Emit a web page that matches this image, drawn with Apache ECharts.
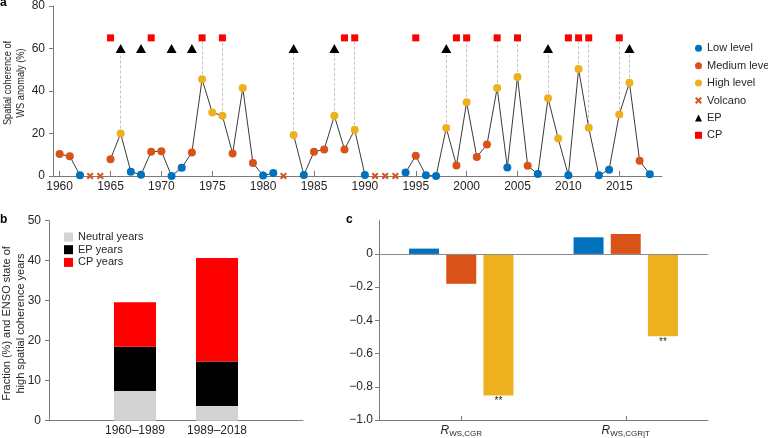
<!DOCTYPE html>
<html>
<head>
<meta charset="utf-8">
<script src="https://cdn.jsdelivr.net/npm/echarts@6/dist/echarts.min.js"></script>
<style>
html,body{margin:0;padding:0;background:#fff;}
#chart{width:768px;height:438px;}
</style>
</head>
<body>
<div id="chart"></div>
<script>
// ---------- Panel a data ----------
const years = [1960,1961,1962,1963,1964,1965,1966,1967,1968,1969,1970,1971,1972,1973,1974,1975,1976,1977,1978,1979,
  1980,1981,1982,1983,1984,1985,1986,1987,1988,1989,1990,1991,1992,1993,1994,1995,1996,1997,1998,1999,
  2000,2001,2002,2003,2004,2005,2006,2007,2008,2009,2010,2011,2012,2013,2014,2015,2016,2017,2018];
const wsValues = [10.3,9.3,0.3,null,null,7.9,20.0,2.0,0.6,11.4,11.7,0.0,3.9,11.1,45.5,29.9,28.3,10.6,41.4,6.1,
  0.2,1.4,null,19.3,0.5,11.4,12.5,28.3,12.5,21.8,0.5,null,null,null,1.6,9.5,0.3,0.0,22.6,5.0,
  34.7,9.0,14.8,41.4,4.0,46.6,4.8,0.9,36.6,17.6,0.3,50.3,22.7,0.3,3.0,29.0,43.9,7.2,0.8];
// L = low, M = medium, H = high, V = volcano
const levels = ['M','M','L','V','V','M','H','L','L','M','M','L','L','M','H','H','H','M','H','M',
  'L','L','V','H','L','M','M','H','M','H','L','V','V','V','L','M','L','L','H','M',
  'H','M','M','H','L','H','M','L','H','H','L','H','H','L','L','H','H','M','L'];
const epYears = [1966,1968,1971,1973,1983,1987,1998,2008,2016];
const cpYears = [1965,1969,1974,1976,1988,1989,1995,1999,2000,2003,2005,2010,2011,2012,2015];
const epMarkerValue = 60;
const cpMarkerValue = 65;
const yearTicks = [1960,1965,1970,1975,1980,1985,1990,1995,2000,2005,2010,2015];
const aYTicks = [0,20,40,60,80];

// ---------- Panel b data ----------
const periodCats = ['1960\u20131989','1989\u20132018'];
const neutralFrac = [7.4, 3.7];
const epFrac = [11.1, 11.1];
const cpFrac = [11.1, 25.9];

// ---------- Panel c data ----------
const corrCats = ['WS,CGR','WS,CGR|T'];
const corrLow = [0.032, 0.10];
const corrMed = [-0.18, 0.12];
const corrHigh = [-0.852, -0.495];
const corrSig = ['**','**'];
const cYTicks = [-1.0,-0.8,-0.6,-0.4,-0.2,0];

// ---------- styles ----------
const FONT = 'Liberation Sans, Arial, Helvetica, sans-serif';
const AX = '#7a7a7a';
const TXT = '#262626';
const C_LOW = '#0072BD', C_MED = '#D95319', C_HIGH = '#EDB120';
const CROSS = 'path://M2,0 L5,3 L8,0 L10,2 L7,5 L10,8 L8,10 L5,7 L2,10 L0,8 L3,5 L0,2 Z';

const pts = code => years.map((y,i)=> levels[i]===code ? [y, wsValues[i]] : null).filter(Boolean);

const guideData = [];
years.forEach((y,i)=>{
  if (levels[i] !== 'H') return;
  if (epYears.includes(y)) guideData.push({coords:[[y, wsValues[i]],[y, epMarkerValue]]});
  else if (cpYears.includes(y)) guideData.push({coords:[[y, wsValues[i]],[y, cpMarkerValue]]});
});

const axLine = {show:true, lineStyle:{color:AX, width:1}};
const lbl = (extra) => Object.assign({color:TXT, fontSize:12, fontFamily:FONT}, extra);

const chart = echarts.init(document.getElementById('chart'), null, {renderer:'canvas'});
const option = {
  animation:false,
  backgroundColor:'#fff',
  textStyle:{fontFamily:FONT},
  grid:[
    {left:53, right:106, top:4.7, bottom:262},
    {left:49, width:254, top:220.7, bottom:17.3},
    {left:379, width:329, top:220.7, bottom:17.3},
    {left:94, width:164, top:220.7, bottom:17.3}
  ],
  legend:[
    {
      data:['Low level','Medium level','High level','Volcano','EP','CP'],
      orient:'vertical', left:690, top:36.8, itemWidth:7, itemHeight:7, itemGap:4.4,
      textStyle:{fontSize:11, color:TXT, fontFamily:FONT, lineHeight:13},
      selectedMode:false
    },
    {
      data:['Neutral years','EP years','CP years'],
      orient:'vertical', left:59, top:226, itemWidth:9, itemHeight:9, itemGap:0.7, icon:'rect',
      textStyle:{fontSize:11, color:TXT, fontFamily:FONT, lineHeight:12},
      selectedMode:false
    }
  ],
  xAxis:[
    {gridIndex:0, type:'value', min:1959.35, max:2019.2,
     axisLine:axLine,
     axisTick:{show:true, inside:true, length:5, customValues:yearTicks, lineStyle:{color:AX}},
     axisLabel:lbl({customValues:yearTicks, formatter:v=>String(v), margin:5}),
     splitLine:{show:false}},
    {gridIndex:1, type:'value', min:0, max:1,
     axisLine:axLine, axisTick:{show:false}, axisLabel:{show:false}, splitLine:{show:false}},
    {gridIndex:2, type:'category', data:corrCats,
     axisLine:{show:true, onZero:false, lineStyle:{color:AX, width:1}},
     axisTick:{show:true, inside:true, length:4, alignWithLabel:true, lineStyle:{color:AX}},
     axisLabel:lbl({margin:3,
       formatter:v=>'{r|R}{s|'+v+'}',
       rich:{
         r:{fontSize:12, fontStyle:'italic', color:TXT, fontFamily:FONT},
         s:{fontSize:8, color:TXT, fontFamily:FONT, padding:[7,0,0,0]}
       }}),
     splitLine:{show:false}},
    {gridIndex:3, type:'category', data:periodCats,
     axisLine:{show:false, onZero:false},
     axisTick:{show:true, inside:true, length:3, alignWithLabel:true, lineStyle:{color:AX}},
     axisLabel:lbl({margin:4}),
     splitLine:{show:false}}
  ],
  yAxis:[
    {gridIndex:0, type:'value', min:0, max:80, interval:20,
     axisLine:axLine,
     axisTick:{show:true, length:4, lineStyle:{color:AX}},
     axisLabel:lbl({customValues:aYTicks, margin:8}),
     splitLine:{show:false}},
    {gridIndex:1, type:'value', min:0, max:50, interval:10,
     axisLine:axLine,
     axisTick:{show:true, length:4, lineStyle:{color:AX}},
     axisLabel:lbl({margin:8}),
     splitLine:{show:false}},
    {gridIndex:2, type:'value', min:-1, max:0.2,
     axisLine:axLine,
     axisTick:{show:true, length:4, customValues:cYTicks, lineStyle:{color:AX}},
     axisLabel:lbl({customValues:cYTicks, margin:6,
       formatter:v=>Math.abs(v)<1e-9 ? '0' : (v<0?'\u2212':'')+Math.abs(v).toFixed(1)}),
     splitLine:{show:false}},
    {gridIndex:3, type:'value', min:0, max:50, show:false}
  ],
  series:[
    // panel a
    {name:'guides', type:'lines', coordinateSystem:'cartesian2d', xAxisIndex:0, yAxisIndex:0,
     data:guideData, silent:true, z:1,
     lineStyle:{color:'#c4c4c4', width:1, type:[3,2], opacity:1}},
    {name:'ws', type:'line', xAxisIndex:0, yAxisIndex:0, z:2,
     data:years.map((y,i)=>[y, wsValues[i]===null ? '-' : wsValues[i]]),
     connectNulls:false, showSymbol:false, symbol:'none',
     lineStyle:{color:'#3a3a3a', width:1}},
    {name:'Low level', type:'scatter', xAxisIndex:0, yAxisIndex:0, z:3, data:pts('L'),
     symbol:'circle', symbolSize:8, itemStyle:{color:C_LOW, opacity:1}},
    {name:'Medium level', type:'scatter', xAxisIndex:0, yAxisIndex:0, z:3, data:pts('M'),
     symbol:'circle', symbolSize:8, itemStyle:{color:C_MED, opacity:1}},
    {name:'High level', type:'scatter', xAxisIndex:0, yAxisIndex:0, z:3, data:pts('H'),
     symbol:'circle', symbolSize:8, itemStyle:{color:C_HIGH, opacity:1}},
    {name:'Volcano', type:'scatter', xAxisIndex:0, yAxisIndex:0, z:3,
     data:years.filter((y,i)=>levels[i]==='V').map(y=>[y,0]),
     symbol:CROSS, symbolSize:7, itemStyle:{color:C_MED, opacity:1}},
    {name:'EP', type:'scatter', xAxisIndex:0, yAxisIndex:0, z:3,
     data:epYears.map(y=>[y, epMarkerValue]),
     symbol:'triangle', symbolSize:[10,9], itemStyle:{color:'#000', opacity:1}},
    {name:'CP', type:'scatter', xAxisIndex:0, yAxisIndex:0, z:3,
     data:cpYears.map(y=>[y, cpMarkerValue]),
     symbol:'rect', symbolSize:7, itemStyle:{color:'#FF0000', opacity:1}},
    // panel b
    {name:'Neutral years', type:'bar', xAxisIndex:3, yAxisIndex:3, stack:'b', barWidth:42,
     data:neutralFrac, itemStyle:{color:'#D3D3D3'}},
    {name:'EP years', type:'bar', xAxisIndex:3, yAxisIndex:3, stack:'b', barWidth:42,
     data:epFrac, itemStyle:{color:'#000000'}},
    {name:'CP years', type:'bar', xAxisIndex:3, yAxisIndex:3, stack:'b', barWidth:42,
     data:cpFrac, itemStyle:{color:'#FF0000'}},
    // panel c
    {name:'c low', type:'bar', xAxisIndex:2, yAxisIndex:2, barWidth:30, barGap:'24%',
     data:corrLow, itemStyle:{color:C_LOW},
     markLine:{silent:true, symbol:['none','none'], label:{show:false},
       lineStyle:{color:'#8a8a8a', type:'solid', width:1}, data:[{yAxis:0}]}},
    {name:'c medium', type:'bar', xAxisIndex:2, yAxisIndex:2, barWidth:30, barGap:'24%',
     data:corrMed, itemStyle:{color:C_MED}},
    {name:'c high', type:'bar', xAxisIndex:2, yAxisIndex:2, barWidth:30, barGap:'24%',
     data:corrHigh, itemStyle:{color:C_HIGH},
     label:{show:true, position:'outside', distance:1, fontSize:10, color:TXT, fontFamily:FONT,
       formatter:p=>corrSig[p.dataIndex]}}
  ],
  graphic:[
    {type:'text', x:0, y:-3, style:{text:'a', font:'bold 12px '+FONT, fill:'#000'}},
    {type:'text', x:0, y:214, style:{text:'b', font:'bold 12px '+FONT, fill:'#000'}},
    {type:'text', x:346, y:214, style:{text:'c', font:'bold 12px '+FONT, fill:'#000'}},
    {type:'text', x:14.5, y:83, rotation:Math.PI/2, scaleX:0.84,
     style:{text:'Spatial coherence of\nWS anomaly (%)', font:'11px '+FONT, fill:TXT,
       align:'center', verticalAlign:'middle', lineHeight:13}},
    {type:'text', x:14, y:323.5, rotation:Math.PI/2,
     style:{text:'Fraction (%) and ENSO state of\nhigh spatial coherence years', font:'11px '+FONT, fill:TXT,
       align:'center', verticalAlign:'middle', lineHeight:13.5}}
  ]
};
chart.setOption(option);
</script>
</body>
</html>
